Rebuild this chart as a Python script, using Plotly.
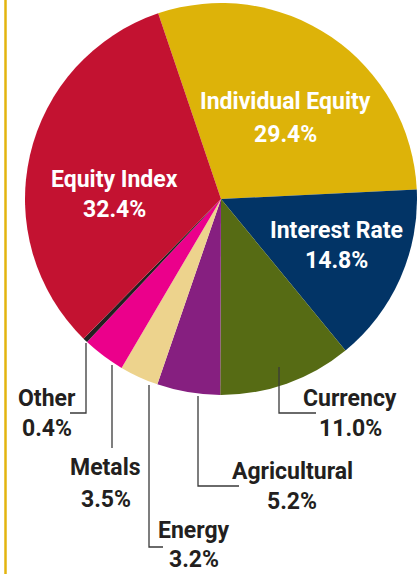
import plotly.graph_objects as go

# DATA
labels = ["Individual Equity", "Interest Rate", "Currency", "Agricultural",
          "Energy", "Metals", "Other", "Equity Index"]
values = [29.4, 14.8, 11.0, 5.2, 3.2, 3.5, 0.4, 32.4]
colors = ["#DDB309", "#023466", "#566B14", "#861F80",
          "#EDD38D", "#EB008B", "#231F20", "#C31231"]

# LAYOUT CONSTANTS (pixel positions in a 417x574 page)
W, H = 417, 574
FONT = "Roboto, Lato, Liberation Sans, sans-serif"
DARK = "#231F20"

# label centres: (x, y first line, y second line, colour)
label_pos = {
    "Individual Equity": (285, 102, 135, "white"),
    "Interest Rate": (336, 230, 260, "white"),
    "Equity Index": (114, 179, 209, "white"),
    "Currency": (350, 398, 428, DARK),
    "Agricultural": (292, 471, 501, DARK),
    "Energy": (194, 530, 559, DARK),
    "Metals": (106, 467, 499, DARK),
    "Other": (47, 398, 428, DARK),
}

# leader lines as pixel polylines
leaders = [
    [(86, 343), (86, 413), (70, 413)],
    [(112, 365), (112, 448)],
    [(149, 385), (149, 547), (163, 547)],
    [(198, 396), (198, 486), (239, 486)],
    [(279, 367), (279, 413), (316, 413)],
]


def px(x):
    return x / W


def py(y):
    return 1 - y / H


fig = go.Figure()

fig.add_trace(go.Pie(
    labels=labels,
    values=values,
    marker=dict(colors=colors, line=dict(width=0)),
    sort=False,
    direction="clockwise",
    rotation=-18.7,
    textinfo="none",
    hoverinfo="label+percent",
    domain=dict(x=[px(25), 1], y=[py(395), py(3)]),
    showlegend=False,
))

# gold rule on the left
fig.add_shape(type="line", xref="paper", yref="paper",
              x0=px(5.5), x1=px(5.5), y0=0, y1=1,
              line=dict(color="#E3B40F", width=2.5))

# leader lines
for pts in leaders:
    path = "M " + " L ".join(f"{px(x)} {py(y)}" for x, y in pts)
    fig.add_shape(type="path", xref="paper", yref="paper", path=path,
                  line=dict(color="#3A3A3A", width=1.3))

# labels
for lab, val in zip(labels, values):
    x, y1, y2, col = label_pos[lab]
    for txt, yy in ((lab, y1), (f"{val:.1f}%", y2)):
        fig.add_annotation(
            x=px(x), y=py(yy), xref="paper", yref="paper",
            text=txt, showarrow=False, xanchor="center", yanchor="middle",
            font=dict(family=FONT, size=23, color=col, weight="bold"),
        )

fig.update_layout(
    width=W, height=H,
    margin=dict(l=0, r=0, t=0, b=0),
    paper_bgcolor="white",
    plot_bgcolor="white",
)

# drop the browser's default body margin so the page is exactly 417x574
fig.write_html("out.html",
               config={"displayModeBar": False},
               post_script="document.body.style.margin='0';"
                           "document.body.style.overflow='hidden';")
